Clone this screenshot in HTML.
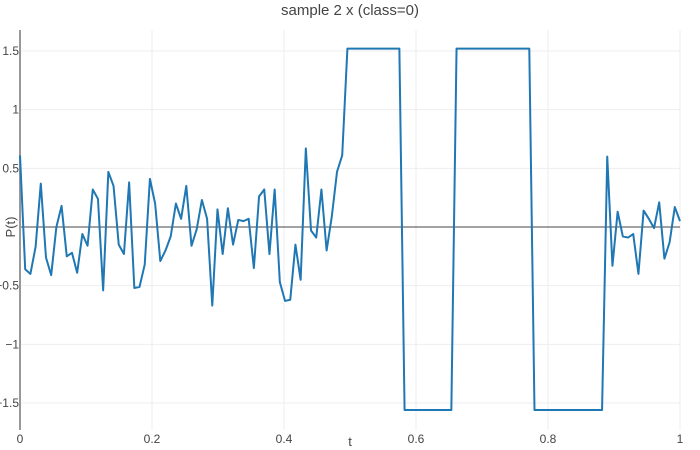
<!DOCTYPE html>
<html><head><meta charset="utf-8"><style>
body{margin:0;background:#fff;}
svg{display:block;font-family:"Liberation Sans","DejaVu Sans",sans-serif;}
</style></head><body>
<svg id="chart" width="700" height="450">
<text x="350" y="15" text-anchor="middle" font-size="15" fill="#444">sample 2 x (class=0)</text>
<g id="grid"></g>
<g id="ticks"></g>
<text x="350" y="446" text-anchor="middle" font-size="13" fill="#444">t</text>
<text x="0" y="0" transform="translate(15,227) rotate(-90)" text-anchor="middle" font-size="13" fill="#444">P(t)</text>
<path id="line" fill="none" stroke="#1f77b4" stroke-width="2" stroke-linejoin="round"></path>
</svg>
<script>
const values = [0.61,-0.36,-0.40,-0.17,0.37,-0.26,-0.41,0.0,0.18,-0.25,-0.22,-0.39,-0.06,-0.16,0.32,0.24,-0.54,0.47,0.35,-0.15,-0.23,0.38,-0.52,-0.51,-0.32,0.41,0.20,-0.29,-0.20,-0.08,0.20,0.07,0.35,-0.16,-0.02,0.23,0.07,-0.67,0.15,-0.23,0.16,-0.15,0.06,0.05,0.07,-0.35,0.26,0.32,-0.23,0.32,-0.47,-0.63,-0.62,-0.15,-0.45,0.67,-0.03,-0.09,0.32,-0.20,0.09,0.47,0.61,1.52,1.52,1.52,1.52,1.52,1.52,1.52,1.52,1.52,1.52,1.52,-1.56,-1.56,-1.56,-1.56,-1.56,-1.56,-1.56,-1.56,-1.56,-1.56,1.52,1.52,1.52,1.52,1.52,1.52,1.52,1.52,1.52,1.52,1.52,1.52,1.52,1.52,1.52,-1.56,-1.56,-1.56,-1.56,-1.56,-1.56,-1.56,-1.56,-1.56,-1.56,-1.56,-1.56,-1.56,-1.56,0.60,-0.33,0.13,-0.08,-0.09,-0.06,-0.40,0.14,0.07,-0.01,0.21,-0.27,-0.13,0.17,0.05];
const xTicks = [0,0.2,0.4,0.6,0.8,1];
const xTickLabels = ["0","0.2","0.4","0.6","0.8","1"];
const yTicks = [1.5,1,0.5,0,-0.5,-1,-1.5];
const yTickLabels = ["1.5","1","0.5","0","−0.5","−1","−1.5"];
const NS="http://www.w3.org/2000/svg";
const X0=20,X1=680,TOP=30,BOT=430;
function xs(t){return X0+t*(X1-X0);}
function ys(v){return 227-v*117.33;}
const grid=document.getElementById('grid'),ticks=document.getElementById('ticks');
function mk(tag,attrs,parent){const e=document.createElementNS(NS,tag);for(const k in attrs)e.setAttribute(k,attrs[k]);parent.appendChild(e);return e;}
xTicks.forEach((t,i)=>{
  if(t!==0){const l=mk('line',{x1:xs(t),x2:xs(t),y1:TOP,y2:BOT,stroke:'#eee','stroke-width':1},grid);
  
  }
  const tx=mk('text',{x:xs(t),y:443,'text-anchor':'middle','font-size':12,fill:'#444'},ticks);
  tx.textContent=xTickLabels[i];
  
  
});
yTicks.forEach((v,i)=>{
  if(v!==0){const l=mk('line',{x1:X0,x2:X1,y1:ys(v),y2:ys(v),stroke:'#eee','stroke-width':1},grid);
  
  }
  if(v===0)return;
  const tx=mk('text',{x:19,y:ys(v)+4,'text-anchor':'end','font-size':12,fill:'#444'},ticks);
  tx.textContent=yTickLabels[i];
  
  
});
const zl=mk('line',{x1:X0,x2:X1,y1:ys(0),y2:ys(0),stroke:'#444','stroke-width':1},grid);


const zx=mk('line',{x1:X0,x2:X0,y1:TOP,y2:BOT,stroke:'#999','stroke-width':2},grid);


const n=values.length;
let d='';
values.forEach((v,i)=>{d+=(i?'L':'M')+xs(i/(n-1)).toFixed(2)+','+ys(v).toFixed(2);});
document.getElementById('line').setAttribute('d',d);
</script>
</body></html>
